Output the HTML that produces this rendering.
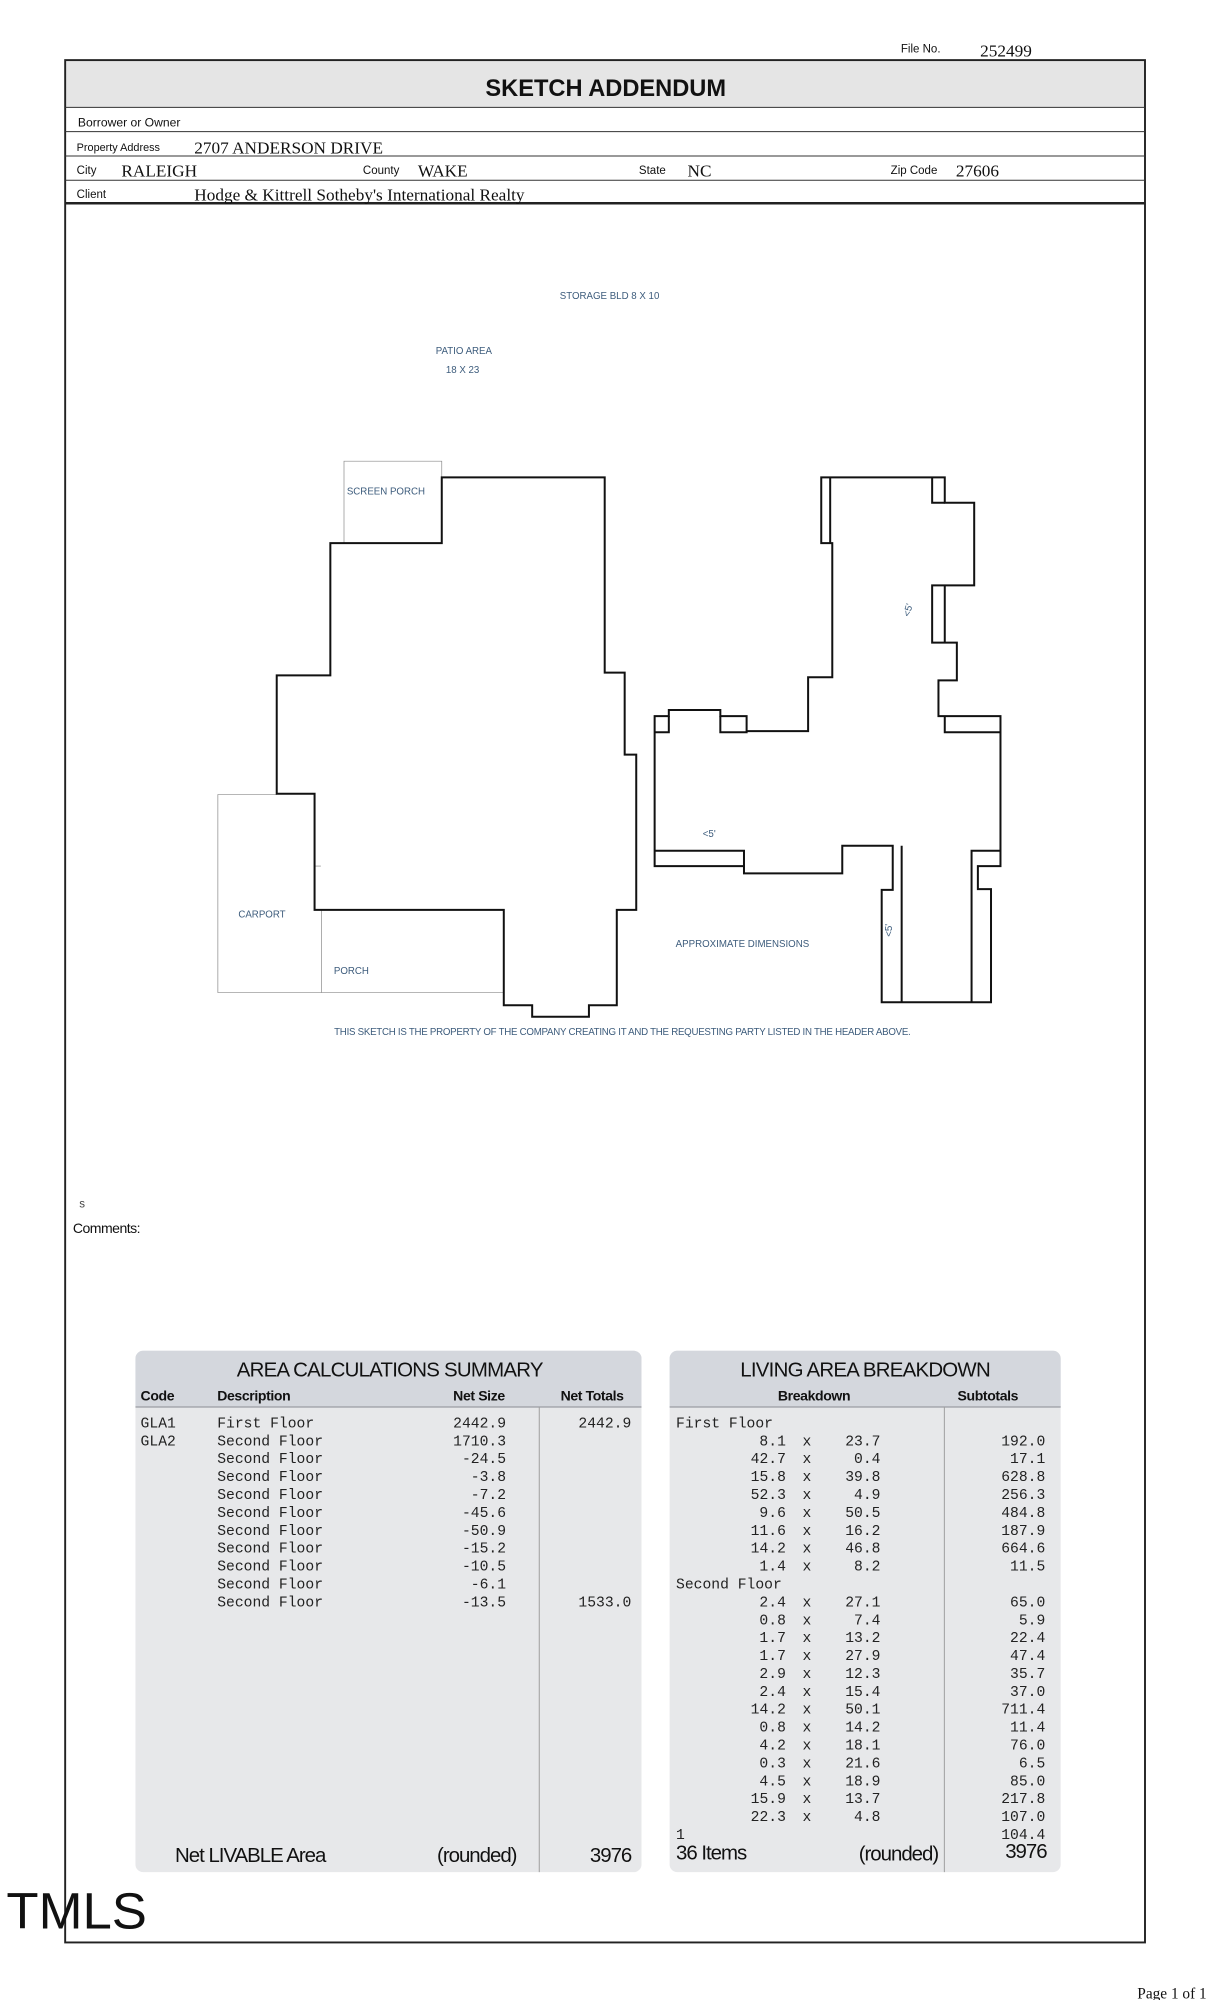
<!DOCTYPE html>
<html><head><meta charset="utf-8">
<style>
html,body{margin:0;padding:0;background:#fff;}
svg{display:block;}
.lbl{font-family:"Liberation Sans",sans-serif;font-size:9.5px;fill:#111;}
.val{font-family:"Liberation Serif",serif;font-size:13.5px;fill:#111;}
.sk{font-family:"Liberation Sans",sans-serif;font-size:7.6px;fill:#3d5c7c;}
.mono{font-family:"Liberation Mono",monospace;font-size:11.5px;fill:#222;}
.th{font-family:"Liberation Sans",sans-serif;font-size:11px;fill:#111;font-weight:bold;letter-spacing:-0.3px;}
.tt{font-family:"Liberation Sans",sans-serif;font-size:16px;fill:#111;letter-spacing:-0.6px;}
.big{font-family:"Liberation Sans",sans-serif;font-size:16px;fill:#111;letter-spacing:-0.8px;}
</style></head>
<body>
<svg width="1214" height="2000" viewBox="0 0 950 1565" xmlns="http://www.w3.org/2000/svg">
<rect width="950" height="1565" fill="#fff"/>
<text x="705" y="41" class="lbl" style="font-size:9px">File No.</text>
<text x="767" y="44" class="val">252499</text>
<rect x="51" y="47" width="845" height="37" fill="#e5e5e5"/>
<rect x="51" y="47" width="845" height="1473" fill="none" stroke="#222" stroke-width="1.5"/>
<text x="474" y="75" text-anchor="middle" style="font-family:'Liberation Sans',sans-serif;font-weight:bold;font-size:18.5px;fill:#111">SKETCH ADDENDUM</text>
<g stroke="#333" stroke-width="0.8">
<line x1="51" y1="84" x2="896" y2="84"/>
<line x1="51" y1="103" x2="896" y2="103"/>
<line x1="51" y1="122" x2="896" y2="122"/>
<line x1="51" y1="141" x2="896" y2="141"/>
</g>
<line x1="51" y1="159" x2="896" y2="159" stroke="#222" stroke-width="2"/>
<text x="61" y="99" class="lbl">Borrower or Owner</text>
<text x="60" y="118" class="lbl" style="font-size:8.5px">Property Address</text>
<text x="152" y="120" class="val">2707 ANDERSON DRIVE</text>
<text x="60" y="136" class="lbl" style="font-size:9px">City</text>
<text x="95" y="138" class="val">RALEIGH</text>
<text x="284" y="136" class="lbl" style="font-size:9px">County</text>
<text x="327" y="138" class="val">WAKE</text>
<text x="500" y="136" class="lbl" style="font-size:9px">State</text>
<text x="538" y="138" class="val">NC</text>
<text x="697" y="136" class="lbl" style="font-size:9px">Zip Code</text>
<text x="748" y="138" class="val">27606</text>
<text x="60" y="155" class="lbl" style="font-size:9px">Client</text>
<text x="152" y="157" class="val">Hodge &amp; Kittrell Sotheby's International Realty</text>

<g transform="translate(156.5,344.3) scale(0.4113,0.3009)" fill="none">
<g stroke="#8a8a8a" stroke-width="0.7">
<polyline points="460,97 460,55 274,55 274,268" vector-effect="non-scaling-stroke"/>
<polyline points="146,922 34,922 34,1437 578,1437" vector-effect="non-scaling-stroke"/>
<line x1="231" y1="1222" x2="231" y2="1437" vector-effect="non-scaling-stroke"/>
<line x1="218" y1="1108" x2="230" y2="1108" vector-effect="non-scaling-stroke"/>
</g>
<g stroke="#111" stroke-width="2" stroke-linejoin="miter">
<polygon vector-effect="non-scaling-stroke" points="460,97 770,97 770,605 808,605 808,818 830,818 830,1222 793,1222 793,1470 740,1470 740,1500 632,1500 632,1470 578,1470 578,1222 218,1222 218,920 146,920 146,612 248,612 248,268 460,268"/>
<polygon vector-effect="non-scaling-stroke" points="1182,97 1417,97 1417,163 1473,163 1473,378 1393,378 1393,527 1440,527 1440,625 1405,625 1405,718 1523,718 1523,1108 1480,1108 1480,1168 1505,1168 1505,1462 1297,1462 1297,1170 1318,1170 1318,1055 1222,1055 1222,1127 1035,1127 1035,1108 865,1108 865,718 892,718 892,702 990,702 990,718 1040,718 1040,757 1157,757 1157,617 1203,617 1203,268 1182,268"/>
<polyline vector-effect="non-scaling-stroke" points="1199,97 1199,268"/>
<polyline vector-effect="non-scaling-stroke" points="1393,97 1393,163 1417,163"/>
<polyline vector-effect="non-scaling-stroke" points="1417,378 1417,527"/>
<polyline vector-effect="non-scaling-stroke" points="1417,718 1417,760 1523,760"/>
<polyline vector-effect="non-scaling-stroke" points="865,760 892,760 892,718"/>
<polyline vector-effect="non-scaling-stroke" points="990,718 990,760 1040,760 1040,757"/>
<polyline vector-effect="non-scaling-stroke" points="865,1068 1035,1068 1035,1108"/>
<polyline vector-effect="non-scaling-stroke" points="1335,1055 1335,1462"/>
<polyline vector-effect="non-scaling-stroke" points="1523,1068 1468,1068 1468,1462"/>
</g>
</g>
<text x="477" y="234" text-anchor="middle" class="sk">STORAGE BLD 8 X 10</text>
<text x="363" y="277" text-anchor="middle" class="sk">PATIO AREA</text>
<text x="362" y="292" text-anchor="middle" class="sk">18 X 23</text>
<text x="302" y="387" text-anchor="middle" class="sk">SCREEN PORCH</text>
<text x="205" y="718" text-anchor="middle" class="sk">CARPORT</text>
<text x="275" y="762" text-anchor="middle" class="sk">PORCH</text>
<text x="555" y="655" text-anchor="middle" class="sk">&lt;5'</text>
<text transform="translate(713,478) rotate(-75)" text-anchor="middle" class="sk">&lt;5'</text>
<text transform="translate(698,728) rotate(-90)" text-anchor="middle" class="sk">&lt;5'</text>
<text x="581" y="741" text-anchor="middle" class="sk">APPROXIMATE DIMENSIONS</text>
<text x="487" y="810" text-anchor="middle" class="sk" style="letter-spacing:-0.2px">THIS SKETCH IS THE PROPERTY OF THE COMPANY CREATING IT AND THE REQUESTING PARTY LISTED IN THE HEADER ABOVE.</text>

<text x="62" y="945" class="lbl" style="fill:#444;font-size:9px">s</text>
<text x="57" y="965" class="lbl" style="font-size:11px;letter-spacing:-0.4px">Comments:</text>

<rect x="106" y="1057" width="396" height="408" rx="6" fill="#e7e8ea"/>
<path d="M112,1057 h384 a6,6 0 0 1 6,6 v38 h-396 v-38 a6,6 0 0 1 6,-6z" fill="#d4d7dd"/>
<line x1="106" y1="1101" x2="502" y2="1101" stroke="#9a9da3" stroke-width="1"/>
<line x1="422" y1="1101" x2="422" y2="1465" stroke="#a0a0a0" stroke-width="0.8"/>
<text x="305" y="1077" text-anchor="middle" class="tt">AREA CALCULATIONS SUMMARY</text>
<text x="110" y="1096" class="th">Code</text>
<text x="170" y="1096" class="th">Description</text>
<text x="395" y="1096" text-anchor="end" class="th">Net Size</text>
<text x="488" y="1096" text-anchor="end" class="th">Net Totals</text>
<g class="mono">
<text x="110" y="1117">GLA1</text><text x="170" y="1117">First Floor</text><text x="396" y="1117" text-anchor="end">2442.9</text><text x="494" y="1117" text-anchor="end">2442.9</text>
<text x="110" y="1131">GLA2</text><text x="170" y="1131">Second Floor</text><text x="396" y="1131" text-anchor="end">1710.3</text>
<text x="170" y="1145">Second Floor</text><text x="396" y="1145" text-anchor="end">-24.5</text>
<text x="170" y="1159">Second Floor</text><text x="396" y="1159" text-anchor="end">-3.8</text>
<text x="170" y="1173">Second Floor</text><text x="396" y="1173" text-anchor="end">-7.2</text>
<text x="170" y="1187">Second Floor</text><text x="396" y="1187" text-anchor="end">-45.6</text>
<text x="170" y="1201">Second Floor</text><text x="396" y="1201" text-anchor="end">-50.9</text>
<text x="170" y="1215">Second Floor</text><text x="396" y="1215" text-anchor="end">-15.2</text>
<text x="170" y="1229">Second Floor</text><text x="396" y="1229" text-anchor="end">-10.5</text>
<text x="170" y="1243">Second Floor</text><text x="396" y="1243" text-anchor="end">-6.1</text>
<text x="170" y="1257">Second Floor</text><text x="396" y="1257" text-anchor="end">-13.5</text><text x="494" y="1257" text-anchor="end">1533.0</text>
</g>
<text x="137" y="1457" class="big">Net LIVABLE Area</text>
<text x="342" y="1457" class="big">(rounded)</text>
<text x="494" y="1457" text-anchor="end" class="big">3976</text>

<rect x="524" y="1057" width="306" height="408" rx="6" fill="#e7e8ea"/>
<path d="M530,1057 h294 a6,6 0 0 1 6,6 v38 h-306 v-38 a6,6 0 0 1 6,-6z" fill="#d4d7dd"/>
<line x1="524" y1="1101" x2="830" y2="1101" stroke="#9a9da3" stroke-width="1"/>
<line x1="739" y1="1101" x2="739" y2="1465" stroke="#a0a0a0" stroke-width="0.8"/>
<text x="677" y="1077" text-anchor="middle" class="tt">LIVING AREA BREAKDOWN</text>
<text x="637" y="1096" text-anchor="middle" class="th">Breakdown</text>
<text x="773" y="1096" text-anchor="middle" class="th">Subtotals</text>
<g class="mono">
<text x="529" y="1117">First Floor</text>
<text x="529" y="1243">Second Floor</text>
<text x="529" y="1439">1</text>
</g>
<g class="mono" text-anchor="end">
<text x="615" y="1131">8.1</text><text x="689" y="1131">23.7</text><text x="818" y="1131">192.0</text>
<text x="615" y="1145">42.7</text><text x="689" y="1145">0.4</text><text x="818" y="1145">17.1</text>
<text x="615" y="1159">15.8</text><text x="689" y="1159">39.8</text><text x="818" y="1159">628.8</text>
<text x="615" y="1173">52.3</text><text x="689" y="1173">4.9</text><text x="818" y="1173">256.3</text>
<text x="615" y="1187">9.6</text><text x="689" y="1187">50.5</text><text x="818" y="1187">484.8</text>
<text x="615" y="1201">11.6</text><text x="689" y="1201">16.2</text><text x="818" y="1201">187.9</text>
<text x="615" y="1215">14.2</text><text x="689" y="1215">46.8</text><text x="818" y="1215">664.6</text>
<text x="615" y="1229">1.4</text><text x="689" y="1229">8.2</text><text x="818" y="1229">11.5</text>
<text x="615" y="1257">2.4</text><text x="689" y="1257">27.1</text><text x="818" y="1257">65.0</text>
<text x="615" y="1271">0.8</text><text x="689" y="1271">7.4</text><text x="818" y="1271">5.9</text>
<text x="615" y="1285">1.7</text><text x="689" y="1285">13.2</text><text x="818" y="1285">22.4</text>
<text x="615" y="1299">1.7</text><text x="689" y="1299">27.9</text><text x="818" y="1299">47.4</text>
<text x="615" y="1313">2.9</text><text x="689" y="1313">12.3</text><text x="818" y="1313">35.7</text>
<text x="615" y="1327">2.4</text><text x="689" y="1327">15.4</text><text x="818" y="1327">37.0</text>
<text x="615" y="1341">14.2</text><text x="689" y="1341">50.1</text><text x="818" y="1341">711.4</text>
<text x="615" y="1355">0.8</text><text x="689" y="1355">14.2</text><text x="818" y="1355">11.4</text>
<text x="615" y="1369">4.2</text><text x="689" y="1369">18.1</text><text x="818" y="1369">76.0</text>
<text x="615" y="1383">0.3</text><text x="689" y="1383">21.6</text><text x="818" y="1383">6.5</text>
<text x="615" y="1397">4.5</text><text x="689" y="1397">18.9</text><text x="818" y="1397">85.0</text>
<text x="615" y="1411">15.9</text><text x="689" y="1411">13.7</text><text x="818" y="1411">217.8</text>
<text x="615" y="1425">22.3</text><text x="689" y="1425">4.8</text><text x="818" y="1425">107.0</text>
<text x="818" y="1439">104.4</text>
</g>
<g class="mono">
<text x="628" y="1131">x</text><text x="628" y="1145">x</text><text x="628" y="1159">x</text><text x="628" y="1173">x</text>
<text x="628" y="1187">x</text><text x="628" y="1201">x</text><text x="628" y="1215">x</text><text x="628" y="1229">x</text>
<text x="628" y="1257">x</text><text x="628" y="1271">x</text><text x="628" y="1285">x</text><text x="628" y="1299">x</text>
<text x="628" y="1313">x</text><text x="628" y="1327">x</text><text x="628" y="1341">x</text><text x="628" y="1355">x</text>
<text x="628" y="1369">x</text><text x="628" y="1383">x</text><text x="628" y="1397">x</text><text x="628" y="1411">x</text>
<text x="628" y="1425">x</text>
</g>
<text x="529" y="1455" class="big">36 Items</text>
<text x="672" y="1456" class="big">(rounded)</text>
<text x="819" y="1454" text-anchor="end" class="big">3976</text>

<text x="5" y="1509" textLength="110" lengthAdjust="spacingAndGlyphs" style="font-family:'Liberation Sans',sans-serif;font-size:40px;fill:#111">TMLS</text>
<text x="890" y="1564" style="font-family:'Liberation Serif',serif;font-size:12px;fill:#111">Page 1 of 1</text>
</svg>
</body></html>
